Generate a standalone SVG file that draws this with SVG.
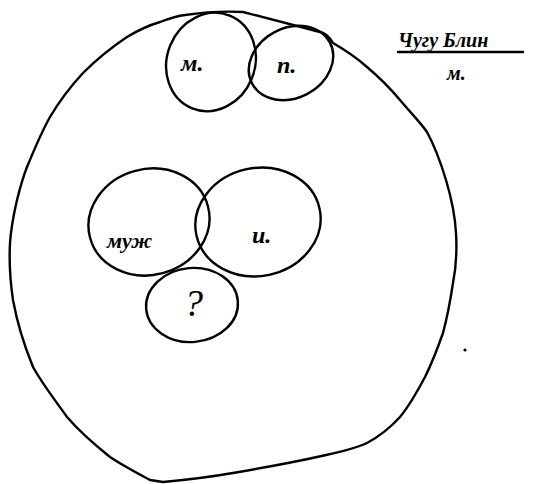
<svg xmlns="http://www.w3.org/2000/svg" width="535" height="484" viewBox="0 0 535 484">
<style>
.s{fill:none;stroke:#000;stroke-width:2.4;stroke-linecap:round;stroke-linejoin:round}
.t{font-family:"Liberation Serif","DejaVu Serif",serif;font-style:italic;font-weight:bold;fill:#000}
.q{font-family:"Liberation Serif","DejaVu Serif",serif;font-style:italic;font-weight:normal;fill:#000}
</style>
<rect width="535" height="484" fill="#fff"/>
<g id="outer">
<path class="s" d="M185,15 C205,12 225,11 243,12 L320,32 C326,33 330,38 333,43 C345,50 357,58 367,67 C380,78 390,88 400,100 C410,112 420,122 427,132 C434,145 440,160 446,180 C452,200 455,215 456,233 C457,250 456,268 453,283 C450,303 447,318 443,333 C437,350 432,363 425,377 C417,392 410,405 400,417 C390,428 380,436 367,443 C352,450 335,453 317,457 C290,463 262,468 233,473 C210,477 185,480 163,482 L150,480 C135,472 122,465 110,457 C95,445 80,432 67,417 C55,400 43,385 33,367 C24,345 17,322 13,300 C10,280 9,262 10,243 C11,228 14,213 17,200 C20,188 23,177 27,167 C34,150 41,133 50,117 C60,100 71,86 83,73 C97,59 112,47 127,37 C140,29 150,25 160,22 C168,19 176,16 185,15 Z"/>
</g>
<g id="node-m">
<ellipse class="s" cx="211" cy="62" rx="44" ry="50" transform="rotate(22 211 62)"/>
<text class="t" x="181" y="71" font-size="24">м.</text>
</g>
<g id="node-p">
<ellipse class="s" cx="291" cy="63" rx="44" ry="35" transform="rotate(-28 291 63)"/>
<text class="t" x="277" y="73" font-size="24">п.</text>
</g>
<g id="node-muzh">
<ellipse class="s" cx="149" cy="222" rx="61" ry="53" transform="rotate(-15 149 222)"/>
<text class="t" x="107" y="248" font-size="22">муж</text>
</g>
<g id="node-i">
<ellipse class="s" cx="258" cy="222" rx="63" ry="54" transform="rotate(-12 258 222)"/>
<text class="t" x="252" y="243" font-size="24">и.</text>
</g>
<g id="node-q">
<ellipse class="s" cx="192" cy="305" rx="46" ry="37" transform="rotate(-5 192 305)"/>
<text class="q" x="184" y="316" font-size="38">?</text>
</g>
<g id="label">
<text class="t" x="398" y="47" font-size="20">Чугу Блин</text>
<line class="s" x1="398" y1="52" x2="523" y2="52"/>
<text class="t" x="447" y="80" font-size="20">м.</text>
</g>
<circle cx="465" cy="350" r="1.6" fill="#000"/>
</svg>
